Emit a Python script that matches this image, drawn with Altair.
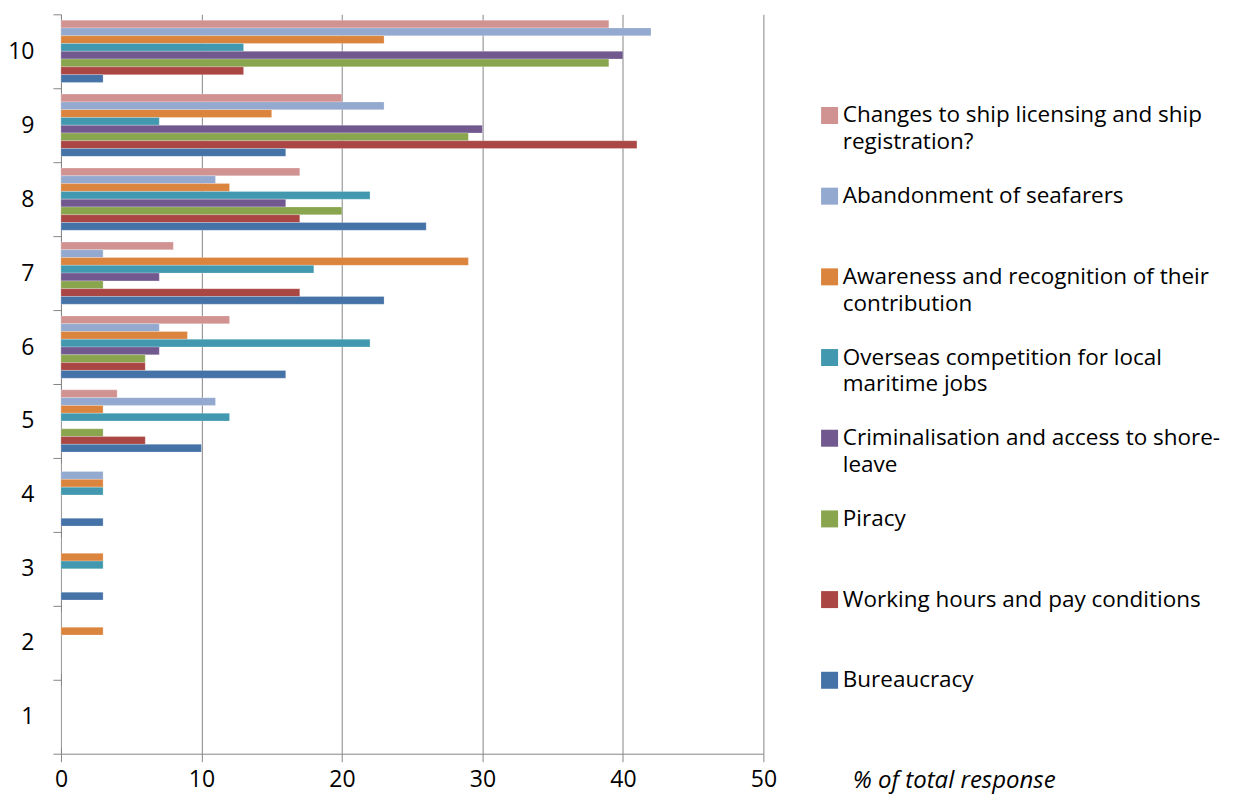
import altair as alt
import pandas as pd

categories = ["1", "2", "3", "4", "5", "6", "7", "8", "9", "10"]
series = [
    "Changes to ship licensing and ship registration?",
    "Abandonment of seafarers",
    "Awareness and recognition of their contribution",
    "Overseas competition for local maritime jobs",
    "Criminalisation and access to shore-leave",
    "Piracy",
    "Working hours and pay conditions",
    "Bureaucracy",
]
colors = ["#D19392", "#93A9CF", "#DB843D", "#4198AF", "#71588F", "#89A54E", "#AA4643", "#4572A7"]

changes     = [0, 0, 0, 0, 4, 12, 8, 17, 20, 39]
abandonment = [0, 0, 0, 3, 11, 7, 3, 11, 23, 42]
awareness   = [0, 3, 3, 3, 3, 9, 29, 12, 15, 23]
overseas    = [0, 0, 3, 3, 12, 22, 18, 22, 7, 13]
criminal    = [0, 0, 0, 0, 0, 7, 7, 16, 30, 40]
piracy      = [0, 0, 0, 0, 3, 6, 3, 20, 29, 39]
working     = [0, 0, 0, 0, 6, 6, 17, 17, 41, 13]
bureaucracy = [0, 0, 3, 3, 10, 16, 23, 26, 16, 3]

legend_lines = {
    "Changes to ship licensing and ship registration?": ["Changes to ship licensing and ship", "registration?"],
    "Awareness and recognition of their contribution": ["Awareness and recognition of their", "contribution"],
    "Overseas competition for local maritime jobs": ["Overseas competition for local", "maritime jobs"],
    "Criminalisation and access to shore-leave": ["Criminalisation and access to shore-", "leave"],
}

values = [changes, abandonment, awareness, overseas, criminal, piracy, working, bureaucracy]
rows = []
for s, vals in zip(series, values):
    for c, v in zip(categories, vals):
        rows.append({"category": c, "series": s, "value": v})
df = pd.DataFrame(rows)

expr = ""
for k, (a, b) in legend_lines.items():
    expr += f"datum.label == '{k}' ? ['{a}', '{b}'] : "
expr += "[datum.label, '']"

font = "Open Sans"
grey = "#868686"

chart = alt.Chart(df).mark_bar(stroke="white", strokeWidth=0.4, strokeOpacity=0.6).encode(
    x=alt.X(
        "value:Q",
        scale=alt.Scale(domain=[0, 50], nice=False),
        axis=alt.Axis(
            values=[0, 10, 20, 30, 40, 50],
            grid=True, gridColor=grey, gridWidth=1,
            domainColor=grey, tickColor=grey, tickSize=8, labelFlush=False,
            labelFont=font, labelFontSize=23, labelColor="black", labelPadding=7,
            title="% of total response", titleFont=font, titleFontSize=24,
            titleFontStyle="italic", titleFontWeight="normal", titleColor="black",
            titleAlign="left", titleX=792, titleY=27, titleBaseline="middle",
        ),
    ),
    y=alt.Y(
        "category:N",
        sort=categories[::-1],
        scale=alt.Scale(paddingInner=0, paddingOuter=0),
        axis=alt.Axis(
            title=None, tickBand="extent", grid=False,
            domainColor=grey, tickColor=grey, tickSize=8,
            labelFont=font, labelFontSize=23, labelColor="black", labelPadding=19,
        ),
    ),
    yOffset=alt.YOffset("series:N", sort=series, scale=alt.Scale(paddingOuter=0.75, paddingInner=0)),
    color=alt.Color(
        "series:N",
        sort=series,
        scale=alt.Scale(domain=series, range=colors),
        legend=alt.Legend(
            title=None, orient="none", legendX=758, legendY=90,
            symbolType="square", symbolSize=289, symbolStrokeWidth=0, symbolOpacity=1,
            labelFont=font, labelFontSize=22.5, labelColor="black", labelLimit=600,
            labelOffset=2, rowPadding=30.75, padding=0, labelExpr=expr,
        ),
    ),
).properties(
    width=703,
    height=740,
    padding={"left": 53, "top": 6, "right": 470, "bottom": 40},
    autosize=alt.AutoSizeParams(type="none"),
).configure(
    background="white",
    style={"guide-label": {"lineHeight": 27}},
).configure_view(stroke=None)

chart.save("out.html", embed_options={"renderer": "svg", "actions": False})
